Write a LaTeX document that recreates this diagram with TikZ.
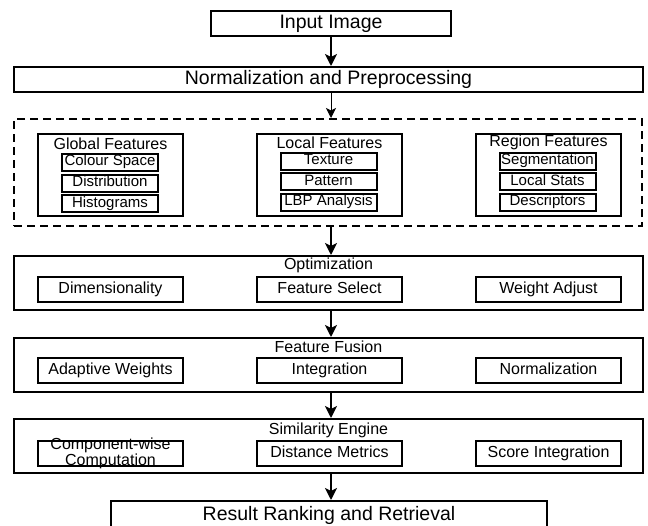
\documentclass[tikz,border=0pt]{standalone}
\usepackage{fontspec}
\setmainfont{Liberation Sans}
\usetikzlibrary{arrows.meta}

\begin{document}
\begin{tikzpicture}[
  x=1pt, y=-1pt,
  big/.style={draw, line width=2pt, inner sep=0pt, text height=14pt,
              text depth=4pt, minimum height=25pt,
              font=\fontsize{19.5}{22}\selectfont},
  pool/.style={draw, line width=2pt, dash pattern=on 8pt off 5pt,
               minimum width=628pt, minimum height=107pt},
  stage/.style={draw, line width=2pt, inner sep=0pt,
                minimum width=629pt, minimum height=54pt},
  group/.style={draw, line width=2pt, inner sep=0pt,
                minimum width=145pt, minimum height=82pt},
  sub/.style={draw, line width=2pt, fill=white, inner sep=0pt,
              minimum width=96pt, minimum height=17pt,
              text height=10.5pt, text depth=3pt,
              font=\fontsize{15}{15}\selectfont},
  part/.style={draw, line width=2pt, fill=white, inner sep=0pt,
               minimum width=145pt, minimum height=25pt,
               text height=11.5pt, text depth=3.4pt,
               font=\fontsize{16}{16}\selectfont},
  head/.style={inner sep=0pt, align=center, font=\fontsize{16}{16}\selectfont},
  flow/.style={-{Stealth[length=12pt, width=12pt, inset=3pt]}, line width=2.5pt},
  lean/.style={-{Stealth[length=10pt, width=10pt, inset=2.5pt]}, line width=1pt}
]
\useasboundingbox (0,0) rectangle (648,525);
\clip (0,0) rectangle (648,525);

% ── input and preprocessing ──────────────────────────────────────────
\node[big, minimum width=240pt] (input) at (331,23.5) {Input Image};
\node[big, minimum width=629pt] (norm)  at (328.5,79.5)
      {Normalization and Preprocessing};

% ── feature extraction (dashed pool) ─────────────────────────────────
\node[pool] (feat) at (328,172.5) {};

\node[group] (glob) at (110.5,175) {};
\node[head]  (globT) at (110.5,143.5) {Global Features};
\node[sub]   (colsp) at (110,162) {Colour Space};
\node[sub]   (distr) at (110,183) {Distribution};
\node[sub]   (hist)  at (110,203.5) {Histograms};

\node[group] (loc) at (329.5,174.5) {};
\node[head]  (locT) at (329.5,142.5) {Local Features};
\node[sub]   (tex)  at (328.5,161) {Texture};
\node[sub]   (patt) at (328.5,181.5) {Pattern};
\node[sub]   (lbp)  at (328.5,202) {LBP Analysis};

\node[group] (reg) at (548.5,175) {};
\node[head]  (regT)   at (548.5,142.5) {Region Features};
\node[sub]   (segm)   at (547.5,161) {Segmentation};
\node[sub]   (lstats) at (547.5,181.5) {Local Stats};
\node[sub]   (desc)   at (547.5,202) {Descriptors};

% ── optimization ─────────────────────────────────────────────────────
\node[stage] (opt)  at (328.5,283) {};
\node[head]  (optT) at (328.5,265) {Optimization};
\node[part]  (dimen) at (110.5,289.5) {Dimensionality};
\node[part]  (fsel)  at (329.5,289.5) {Feature Select};
\node[part]  (wadj)  at (548.5,289.5) {Weight Adjust};

% ── feature fusion ───────────────────────────────────────────────────
\node[stage] (fusion)  at (328.5,365) {};
\node[head]  (fusionT) at (328.5,347) {Feature Fusion};
\node[part]  (adapt) at (110.5,370.5) {Adaptive Weights};
\node[part]  (integ) at (329.5,370.5) {Integration};
\node[part]  (normz) at (548.5,370.5) {Normalization};

% ── similarity engine ────────────────────────────────────────────────
\node[stage] (sim)  at (328.5,446) {};
\node[head]  (simT) at (328.5,430) {Similarity Engine};
\node[part]  (comp)  at (110.5,453) {};
\node[head]  (compT) at (110.5,453) {Component-wise\\Computation};
\node[part]  (dist)  at (329.5,453) {Distance Metrics};
\node[part]  (score) at (548.5,453) {Score Integration};

% ── output ───────────────────────────────────────────────────────────
\node[big, minimum width=436pt, minimum height=28pt] (result) at (329,515)
      {Result Ranking and Retrieval};

% ── main flow ────────────────────────────────────────────────────────
\draw[flow] (input) -- (input |- norm.north);
\draw[lean] (norm.south -| input) -- (feat.north -| input);
\draw[flow] (feat.south -| input) -- (opt.north -| input);
\draw[flow] (opt.south -| input) -- (fusion.north -| input);
\draw[flow] (fusion.south -| input) -- (sim.north -| input);
\draw[flow] (sim.south -| input) -- (result.north -| input);

\end{tikzpicture}
\end{document}
